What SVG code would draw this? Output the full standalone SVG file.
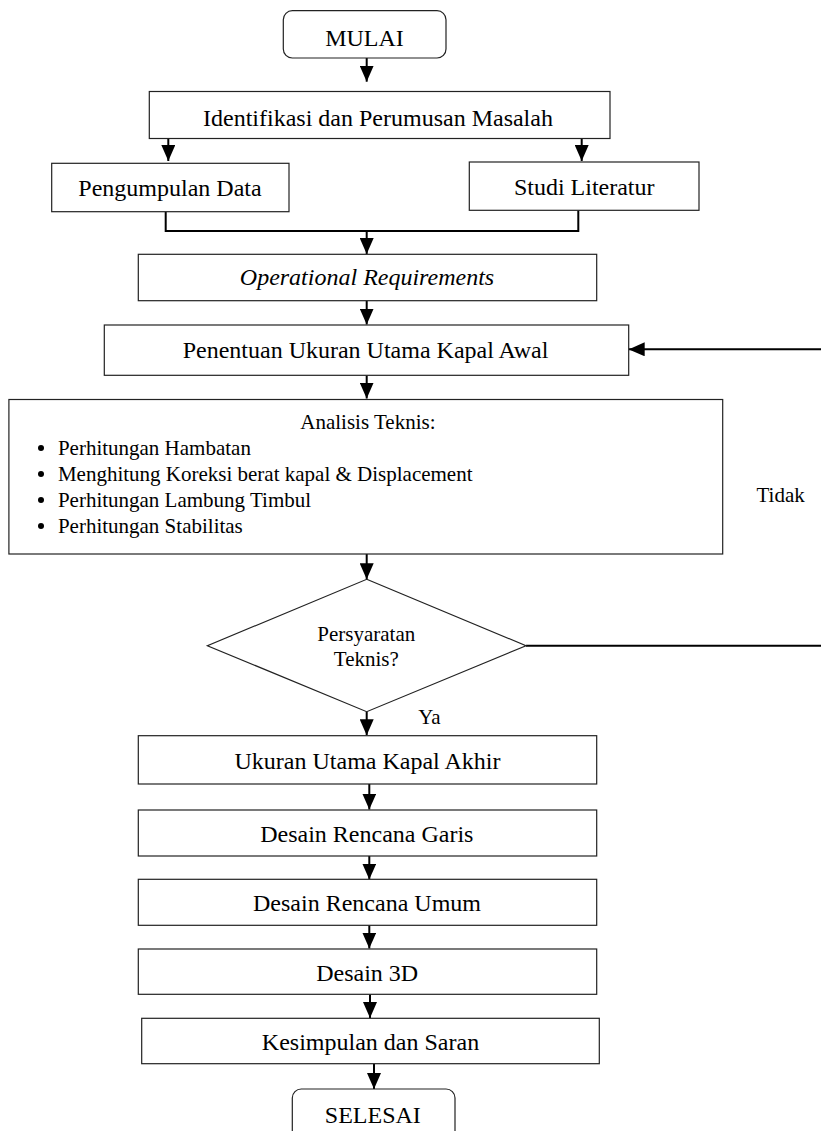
<svg xmlns="http://www.w3.org/2000/svg" width="821" height="1131" viewBox="0 0 821 1131">
<defs>
<marker id="ah" markerWidth="16" markerHeight="14" refX="16" refY="7" orient="auto" markerUnits="userSpaceOnUse">
<path d="M0,0 L16,7 L0,14 Z" fill="#000"/>
</marker>
<style>
.box{fill:#fff;stroke:#222;stroke-width:1.2}
.t{font-family:"Liberation Serif","Times New Roman",serif;font-size:24px;fill:#000;text-anchor:middle}
.s{font-family:"Liberation Serif","Times New Roman",serif;font-size:21px;fill:#000}
.c{fill:none;stroke:#000;stroke-width:2}
.ca{fill:none;stroke:#000;stroke-width:2;marker-end:url(#ah)}
</style>
</defs>
<rect width="821" height="1131" fill="#fff"/>
<g id="connectors">
<line class="ca" x1="366.7" y1="58" x2="366.7" y2="81.7"/>
<line class="ca" x1="168.3" y1="138.5" x2="168.3" y2="161"/>
<line class="ca" x1="581.7" y1="138.5" x2="581.7" y2="161"/>
<path class="c" d="M165.7 211.7 V231 H578.3 V210.3"/>
<line class="ca" x1="366.7" y1="231" x2="366.7" y2="254"/>
<line class="ca" x1="366.7" y1="300.7" x2="366.7" y2="324.5"/>
<line class="ca" x1="366.7" y1="375.3" x2="366.7" y2="398.5"/>
<line class="ca" x1="366.7" y1="554" x2="366.7" y2="579.3"/>
<line class="ca" x1="366.7" y1="711.7" x2="366.7" y2="735.3"/>
<line class="c" x1="526" y1="645.7" x2="821" y2="645.7"/>
<line class="ca" x1="821" y1="349.3" x2="628.7" y2="349.3"/>
<text class="s" x="756.5" y="501.7">Tidak</text>
<text class="s" x="418.3" y="724.3">Ya</text>
<line class="ca" x1="369.3" y1="784" x2="369.3" y2="809.5"/>
<line class="ca" x1="369.3" y1="856" x2="369.3" y2="879.5"/>
<line class="ca" x1="369.3" y1="925.3" x2="369.3" y2="948.5"/>
<line class="ca" x1="370" y1="994.3" x2="370" y2="1018"/>
<line class="ca" x1="374" y1="1063.7" x2="374" y2="1089"/>
</g>
<g id="mulai">
<rect class="box" x="283.3" y="10.7" width="162.7" height="47.3" rx="9"/>
<text class="t" x="364.5" y="45.7">MULAI</text>
</g>
<g id="identifikasi">
<rect class="box" x="149.3" y="91.5" width="460.7" height="47"/>
<text class="t" x="378" y="125.5">Identifikasi dan Perumusan Masalah</text>
</g>
<g id="pengumpulan">
<rect class="box" x="51.7" y="163.3" width="237.3" height="48.4"/>
<text class="t" x="170" y="195.7">Pengumpulan Data</text>
</g>
<g id="studi">
<rect class="box" x="469.3" y="162" width="229.7" height="48.3"/>
<text class="t" x="584.2" y="195">Studi Literatur</text>
</g>
<g id="operational">
<rect class="box" x="138.3" y="254.3" width="458.4" height="46.4"/>
<text class="t" x="367" y="285" font-style="italic">Operational Requirements</text>
</g>
<g id="penentuan">
<rect class="box" x="104.3" y="325" width="524.4" height="50.3"/>
<text class="t" x="365.5" y="358.3">Penentuan Ukuran Utama Kapal Awal</text>
</g>
<g id="analisis">
<rect class="box" x="8.9" y="399.5" width="713.8" height="154.5"/>
<text class="s" x="367.9" y="429" text-anchor="middle">Analisis Teknis:</text>
<circle cx="41" cy="448" r="3"/>
<circle cx="41" cy="474" r="3"/>
<circle cx="41" cy="500" r="3"/>
<circle cx="41" cy="526" r="3"/>
<text class="s" x="57.9" y="455">Perhitungan Hambatan</text>
<text class="s" x="57.9" y="481">Menghitung Koreksi berat kapal &amp; Displacement</text>
<text class="s" x="57.9" y="507">Perhitungan Lambung Timbul</text>
<text class="s" x="57.9" y="533">Perhitungan Stabilitas</text>
</g>
<g id="persyaratan">
<polygon class="box" points="366.7,579.3 526,645.7 366.7,711.7 207.4,645.7"/>
<text class="s" x="366.3" y="641" text-anchor="middle">Persyaratan</text>
<text class="s" x="366.3" y="666" text-anchor="middle">Teknis?</text>
</g>
<g id="ukuran-akhir">
<rect class="box" x="138.3" y="735.7" width="458.4" height="48.3"/>
<text class="t" x="367.5" y="769">Ukuran Utama Kapal Akhir</text>
</g>
<g id="rencana-garis">
<rect class="box" x="138.3" y="810" width="458.4" height="46"/>
<text class="t" x="366.8" y="841.7">Desain Rencana Garis</text>
</g>
<g id="rencana-umum">
<rect class="box" x="138.3" y="879.3" width="458.4" height="46"/>
<text class="t" x="367" y="910.7">Desain Rencana Umum</text>
</g>
<g id="desain-3d">
<rect class="box" x="138.3" y="949" width="458.4" height="45.3"/>
<text class="t" x="367.2" y="980.7">Desain 3D</text>
</g>
<g id="kesimpulan">
<rect class="box" x="141.7" y="1018.3" width="457.6" height="45.4"/>
<text class="t" x="370.5" y="1050">Kesimpulan dan Saran</text>
</g>
<g id="selesai">
<rect class="box" x="292.3" y="1089" width="162.7" height="60" rx="9"/>
<text class="t" x="372.8" y="1123.3">SELESAI</text>
</g>
</svg>
